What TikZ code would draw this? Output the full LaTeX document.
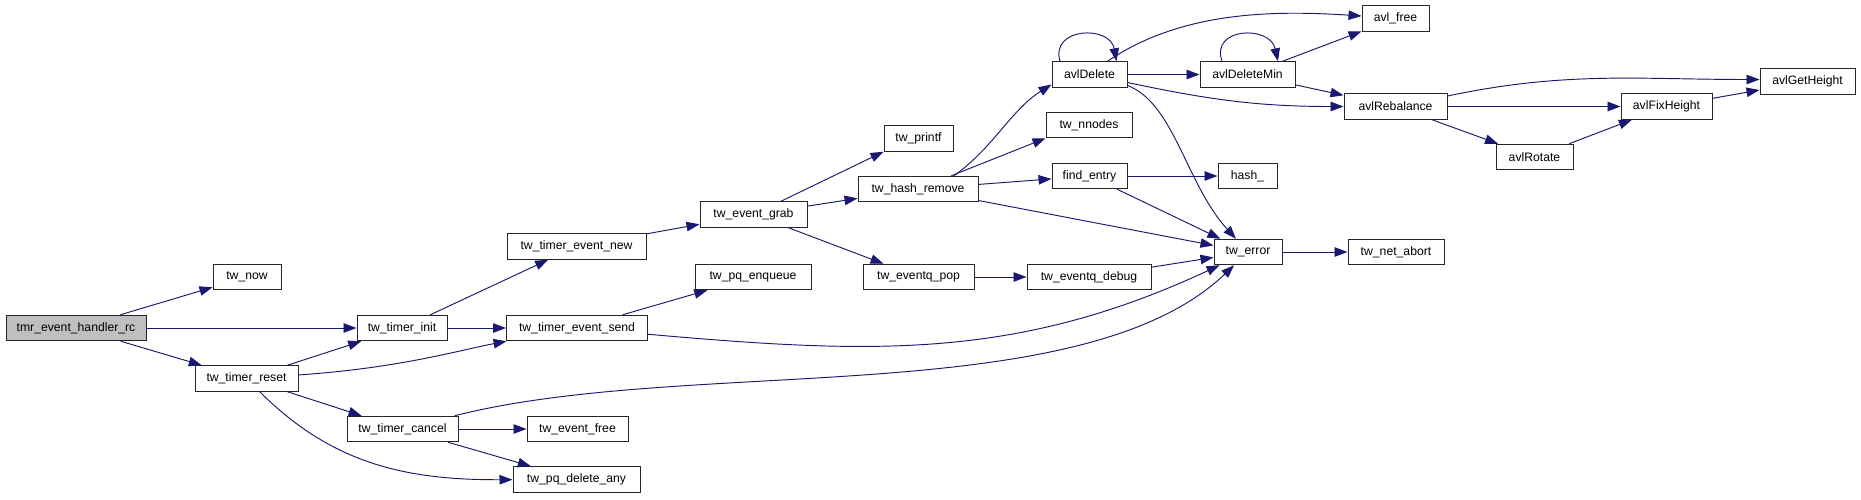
\documentclass[tikz,border=0pt]{standalone}
\usepackage{fontspec}
\setmainfont{Liberation Sans}
\usetikzlibrary{arrows.meta,positioning}
\definecolor{edgeblue}{HTML}{191970}

\begin{document}
\begin{tikzpicture}[
    x=1pt, y=1pt,
    box/.style={draw=black!85, line width=1pt, fill=white, align=center, minimum height=25.5, inner sep=0pt, font=\fontsize{12.2}{14}\selectfont},
    rootbox/.style={box, fill=black!25},
    arrow/.style={-{Triangle[length=13pt,width=9.5pt]}, edgeblue, line width=0.95pt}
  ]
    \useasboundingbox (0,0) rectangle (1861,-499);

    \node[rootbox, minimum width=140] (handler) at (76,-328) {tmr\_event\_handler\_rc};
    \node[box, minimum width=68] (now) at (247,-277) {tw\_now};
    \node[box, minimum width=103] (reset) at (246.5,-378.5) {tw\_timer\_reset};
    \node[box, minimum width=90] (init) at (402,-328) {tw\_timer\_init};
    \node[box, minimum width=111] (cancel) at (402.5,-429) {tw\_timer\_cancel};
    \node[box, minimum width=139] (evnew) at (576.5,-246.5) {tw\_timer\_event\_new};
    \node[box, minimum width=141] (evsend) at (577,-328) {tw\_timer\_event\_send};
    \node[box, minimum width=101] (evfree) at (577.5,-429) {tw\_event\_free};
    \node[box, minimum width=127] (pqdel) at (576.5,-479.5) {tw\_pq\_delete\_any};
    \node[box, minimum width=107] (grab) at (753.5,-214.5) {tw\_event\_grab};
    \node[box, minimum width=116] (enqueue) at (753,-277) {tw\_pq\_enqueue};
    \node[box, minimum width=69] (printf) at (918.5,-138.5) {tw\_printf};
    \node[box, minimum width=120] (hashrm) at (918,-189) {tw\_hash\_remove};
    \node[box, minimum width=111] (qpop) at (918.5,-277) {tw\_eventq\_pop};
    \node[box, minimum width=75] (avldel) at (1089.5,-74.5) {avlDelete};
    \node[box, minimum width=86] (nnodes) at (1089,-125) {tw\_nnodes};
    \node[box, minimum width=75] (findent) at (1089.5,-176) {find\_entry};
    \node[box, minimum width=124] (qdebug) at (1089,-277) {tw\_eventq\_debug};
    \node[box, minimum width=95] (delmin) at (1247.5,-74.5) {avlDeleteMin};
    \node[box, minimum width=59] (hashfn) at (1247.5,-176) {hash\_};
    \node[box, minimum width=68] (error) at (1248,-252) {tw\_error};
    \node[box, minimum width=67] (avlfree) at (1395.5,-18.5) {avl\_free};
    \node[box, minimum width=103] (rebal) at (1395.5,-106.5) {avlRebalance};
    \node[box, minimum width=96] (netabort) at (1396,-252) {tw\_net\_abort};
    \node[box, minimum width=77] (rotate) at (1534.5,-157) {avlRotate};
    \node[box, minimum width=91] (fixh) at (1666.5,-106.5) {avlFixHeight};
    \node[box, minimum width=95] (geth) at (1807.5,-81.5) {avlGetHeight};

    \draw[arrow] (handler) -- (now);
    \draw[arrow] (handler) -- (init);
    \draw[arrow] (handler) -- (reset);
    \draw[arrow] (reset) -- (init);
    \draw[arrow] (reset) .. controls (400,-368) and (460,-350) .. (evsend);
    \draw[arrow] (reset) -- (cancel);
    \draw[arrow] (reset) .. controls (333,-465) and (408,-480) .. (pqdel);
    \draw[arrow] (init) -- (evnew);
    \draw[arrow] (init) -- (evsend);
    \draw[arrow] (cancel) -- (evfree);
    \draw[arrow] (cancel) -- (pqdel);
    \draw[arrow] (cancel) .. controls (690,-356) and (1080,-412) .. (error);
    \draw[arrow] (evnew) -- (grab);
    \draw[arrow] (evsend) -- (enqueue);
    \draw[arrow] (evsend) .. controls (872,-354) and (1016,-360) .. (error);
    \draw[arrow] (grab) -- (printf.south west);
    \draw[arrow] (grab) -- (hashrm);
    \draw[arrow] (grab) -- (qpop);
    \draw[arrow] ([xshift=36]hashrm.north) .. controls (994,-147) and (1011,-110) .. ([yshift=-10]avldel.west);
    \draw[arrow] (hashrm) -- (nnodes.south west);
    \draw[arrow] (hashrm) -- (findent);
    \draw[arrow] (hashrm) -- (error);
    \draw[arrow] (qpop) -- (qdebug);
    \draw[arrow] (qdebug) -- (error);
    \draw[arrow] (findent) -- (hashfn);
    \draw[arrow] (findent) -- (error);
    \draw[arrow] ([xshift=-29.5]avldel.north) .. controls (1050,-27) and (1110,-25) .. ([xshift=27]avldel.north);
    \draw[arrow] ([xshift=18]avldel.north) .. controls (1180,-12) and (1270,-10) .. ([yshift=2.5]avlfree.west);
    \draw[arrow] (avldel) -- (delmin);
    \draw[arrow] ([yshift=-8]avldel.east) .. controls (1210,-100) and (1259,-106.5) .. (rebal.west);
    \draw[arrow] ([yshift=-11]avldel.east) .. controls (1174,-103) and (1186,-184) .. (error);
    \draw[arrow] ([xshift=-25.5]delmin.north) .. controls (1210,-27) and (1270,-25) .. ([xshift=30.5]delmin.north);
    \draw[arrow] (delmin) -- (avlfree);
    \draw[arrow] (delmin) -- (rebal);
    \draw[arrow] ([yshift=10.5]rebal.east) .. controls (1566,-71) and (1638,-79.5) .. ([yshift=2]geth.west);
    \draw[arrow] (rebal) -- (fixh);
    \draw[arrow] (rebal) -- (rotate);
    \draw[arrow] (rotate) -- (fixh);
    \draw[arrow] (fixh) -- (geth);
    \draw[arrow] (error) -- (netabort);
  \end{tikzpicture}
\end{document}
